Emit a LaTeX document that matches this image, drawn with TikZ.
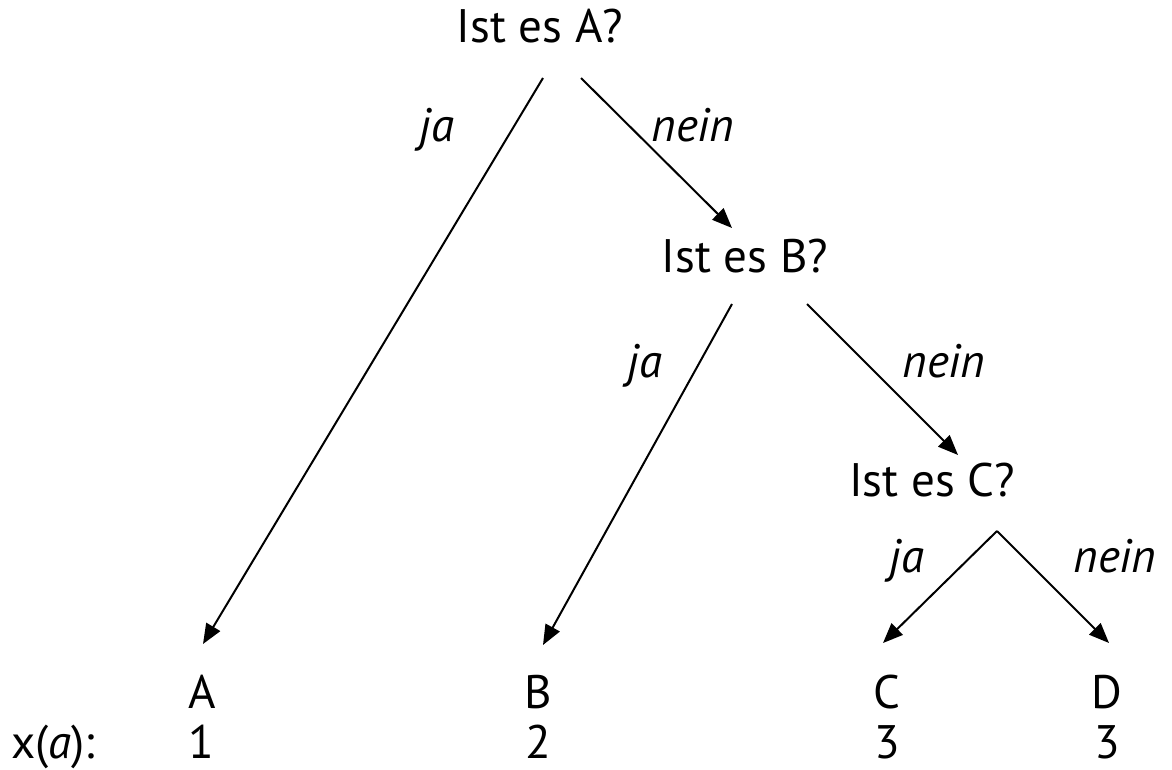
\documentclass[tikz,border=0pt]{standalone}
\usepackage{fontspec}
\setmainfont{PT Sans}
\usetikzlibrary{arrows.meta}

\begin{document}
\begin{tikzpicture}[x=0.5pt,y=-0.5pt,
    txt/.style={anchor=base,inner sep=0pt,font=\fontsize{23.5}{28}\selectfont},
    lbl/.style={txt,font=\fontsize{23.5}{28}\selectfont\itshape},
    arr/.style={-{Triangle[length=10pt,width=8pt]},line width=1pt}
  ]
  \useasboundingbox (0,0) rectangle (1172,770);

  % questions
  \node[txt] (qa) at (540,43)  {Ist es A?};
  \node[txt] (qb) at (745,272) {Ist es B?};
  \node[txt] (qc) at (932,496) {Ist es C?};

  % leaves and values
  \node[txt] (la) at (202,708)  {A};
  \node[txt] (lb) at (538,708)  {B};
  \node[txt] (lc) at (887,708)  {C};
  \node[txt] (ld) at (1107,708) {D};
  \node[txt] (va) at (201,758)  {1};
  \node[txt] (vb) at (538,758)  {2};
  \node[txt] (vc) at (887,758)  {3};
  \node[txt] (vd) at (1107,758) {3};
  \node[txt] (xa) at (53,758)   {x(\textit{a}):};

  % answers
  \node[lbl] (ja1)   at (437,142)  {ja};
  \node[lbl] (nein1) at (693,142)  {nein};
  \node[lbl] (ja2)   at (645,377)  {ja};
  \node[lbl] (nein2) at (944,377)  {nein};
  \node[lbl] (ja3)   at (907,572)  {ja};
  \node[lbl] (nein3) at (1115,572) {nein};

  \draw[arr] ([shift={(3,35)}]qa.base) -- ([shift={(1,-64)}]la.base);
  \draw[arr] ([shift={(41,35)}]qa.base) -- ([shift={(-13,-44)}]qb.base);
  \draw[arr] ([shift={(-13,32)}]qb.base) -- ([shift={(5,-63)}]lb.base);
  \draw[arr] ([shift={(62,32)}]qb.base) -- ([shift={(26,-41)}]qc.base);
  \draw[arr] ([shift={(65,35)}]qc.base) -- ([shift={(-4,-65)}]lc.base);
  \draw[arr] ([shift={(65,35)}]qc.base) -- ([shift={(2,-65)}]ld.base);
\end{tikzpicture}
\end{document}
